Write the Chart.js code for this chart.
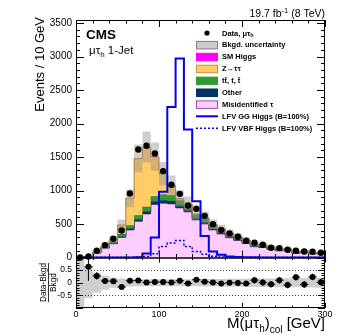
<!DOCTYPE html>
<html>
<head>
<meta charset="utf-8">
<script src="https://cdn.jsdelivr.net/npm/chart.js@4.4.1/dist/chart.umd.min.js"></script>
<style>
  html, body { margin: 0; padding: 0; background: #fff; }
  #wrap { position: relative; width: 349px; height: 336px; }
</style>
</head>
<body>
<div id="wrap"><canvas id="lfv-chart" width="349" height="336"></canvas></div>
<script>
// lower edge of each 10 GeV bin, M(mu tau_h)_col
const binLow = [0, 10, 20, 30, 40, 50, 60, 70, 80, 90, 100, 110, 120, 130, 140,
  150, 160, 170, 180, 190, 200, 210, 220, 230, 240, 250, 260, 270, 280, 290];

const dataObs = [0, 15, 100, 185, 280, 403, 955, 1612, 1667, 1552, 1290, 1085, 950, 776, 727,
  622, 498, 413, 360, 310, 250, 222, 190, 145, 140, 115, 100, 90, 85, 72];

// background stack, bottom to top
const misidTau = [2, 7, 68, 140, 205, 300, 410, 540, 650, 790, 810, 800, 740, 680, 560,
  500, 410, 350, 295, 255, 208, 160, 150, 122, 100, 100, 64, 76, 54, 55];
const otherBkg = [0, 0.5, 2, 5, 8, 15, 22, 30, 38, 45, 45, 45, 40, 35, 25,
  25, 20, 18, 15, 13, 11, 9, 8, 7, 6, 5, 4, 4, 3, 3];
const ttbar = [0, 1, 6, 14, 22, 35, 50, 60, 70, 80, 85, 85, 70, 65, 55,
  60, 55, 52, 45, 41, 36, 30, 28, 24, 19, 19, 13, 16, 11, 11];
const zTauTau = [0, 0.5, 3, 14, 29, 135, 401, 847, 889, 588, 307, 139, 26, 17, 8,
  12, 7, 6, 5, 4, 3, 3, 2, 2, 2, 2, 1, 1, 1, 1];
const smHiggs = [0, 0, 0, 0, 0, 0, 1, 2, 3, 4, 5, 5, 4, 3, 2,
  1, 1, 0, 0, 0, 0, 0, 0, 0, 0, 0, 0, 0, 0, 0];
// relative background uncertainty
const bkgRelUnc = [1.0, 0.6, 0.4, 0.28, 0.2, 0.17, 0.15, 0.14, 0.14, 0.14, 0.14, 0.14, 0.14, 0.14, 0.14,
  0.15, 0.15, 0.15, 0.16, 0.16, 0.16, 0.17, 0.17, 0.17, 0.18, 0.18, 0.18, 0.19, 0.19, 0.2];

// signal, B = 100%
const lfvGG = [0, 0, 0, 0, 0, 0, 0, 5, 60, 300, 980, 2245, 2970, 1910, 840,
  320, 90, 40, 15, 8, 4, 2, 1, 1, 0, 0, 0, 0, 0, 0];
const lfvVBF = [0, 0, 0, 0, 0, 0, 0, 3, 15, 55, 165, 215, 255, 165, 90,
  50, 18, 8, 4, 2, 1, 0, 0, 0, 0, 0, 0, 0, 0, 0];

// (Data-Bkgd)/Bkgd panel
const ratioVals = [null, 0.63, 0.27, 0.07, 0.06, -0.17, 0.08, 0.09, 0.01, 0.03, 0.03, 0.01, 0.08, -0.03, 0.12,
  0.04, 0.01, -0.03, 0.0, -0.01, -0.03, 0.1, 0.01, -0.06, 0.1, -0.09, 0.22, -0.07, 0.23, 0.02];
const ratioErr = [0, 0.55, 0.15, 0.1, 0.09, 0.08, 0.07, 0.07, 0.07, 0.07, 0.07, 0.07, 0.07, 0.07, 0.07,
  0.1, 0.1, 0.1, 0.1, 0.1, 0.1, 0.13, 0.13, 0.13, 0.13, 0.13, 0.13, 0.13, 0.13, 0.13];

// tick labels
const xTickVals = [0, 100, 200, 300];
const yTickVals = [0, 500, 1000, 1500, 2000, 2500, 3000, 3500];
const ratioTickVals = [-0.5, 0, 0.5];

const FONT = "'Liberation Sans', Arial, Helvetica, sans-serif";

const steps = (vals) => {
  const pts = binLow.map((x, i) => ({ x: x, y: vals[i] }));
  pts.push({ x: 300, y: vals[vals.length - 1] });
  return pts;
};
const addArr = (a, b) => a.map((v, i) => v + b[i]);

const cum1 = misidTau;
const cum2 = addArr(cum1, otherBkg);
const cum3 = addArr(cum2, ttbar);
const cum4 = addArr(cum3, zTauTau);
const total = addArr(cum4, smHiggs);
const bandLo = total.map((t, i) => t * (1 - bkgRelUnc[i]));
const bandHi = total.map((t, i) => t * (1 + bkgRelUnc[i]));
const rBandLo = bkgRelUnc.map(u => Math.max(-u, -1));
const rBandHi = bkgRelUnc.map(u => Math.min(u, 1));

const histo = (label, vals, fillTarget, bg, border, order) => ({
  label: label,
  data: steps(vals),
  stepped: 'before',
  yAxisID: 'y',
  fill: fillTarget,
  backgroundColor: bg,
  borderColor: border,
  borderWidth: 1,
  pointRadius: 0,
  order: order
});

const datasets = [
  histo('Misidentified tau', cum1, 'origin', '#ffccff', '#a050a0', 20),       // 0
  histo('Other', cum2, 0, '#003366', '#003366', 19),                          // 1
  histo('ttbar', cum3, 1, '#339933', '#1f6f1f', 18),                          // 2
  histo('Z->tautau', cum4, 2, '#ffcc66', '#b87a30', 17),                      // 3
  histo('SM Higgs', total, 3, '#ff00ff', 'rgba(0,0,0,0)', 16),                // 4
  histo('band lo', bandLo, false, 'rgba(0,0,0,0)', 'rgba(0,0,0,0)', 15),      // 5
  histo('Bkgd. uncertainty', bandHi, 5, 'rgba(140,140,140,0.42)', 'rgba(0,0,0,0)', 14), // 6
  { label: 'LFV VBF', data: steps(lfvVBF), stepped: 'before', yAxisID: 'y', fill: false,
    borderColor: '#0000ee', borderWidth: 1.5, borderDash: [2, 2], pointRadius: 0, order: 3 }, // 7
  { label: 'LFV GG', data: steps(lfvGG), stepped: 'before', yAxisID: 'y', fill: false,
    borderColor: '#0000ee', borderWidth: 2, pointRadius: 0, order: 2 },          // 8
  { label: 'Data', data: binLow.map((x, i) => ({ x: x + 5, y: dataObs[i] })), yAxisID: 'y',
    showLine: false, pointRadius: 3.2, pointBackgroundColor: '#000', pointBorderWidth: 0,
    clip: 6, order: 1 },                                                         // 9
  { label: 'r lo', data: steps(rBandLo), stepped: 'before', yAxisID: 'yr', fill: false,
    borderWidth: 0, borderColor: 'rgba(0,0,0,0)', pointRadius: 0, order: 12 },    // 10
  { label: 'r hi', data: steps(rBandHi), stepped: 'before', yAxisID: 'yr', fill: 10,
    backgroundColor: 'rgba(140,140,140,0.42)', borderWidth: 0, borderColor: 'rgba(0,0,0,0)',
    pointRadius: 0, order: 11 },                                                 // 11
  { label: 'ratio', data: binLow.map((x, i) => ({ x: x + 5, y: ratioVals[i] })).filter(p => p.y !== null),
    yAxisID: 'yr', showLine: false, pointRadius: 3, pointBackgroundColor: '#000',
    pointBorderWidth: 0, clip: 6, order: 1 }                                     // 12
];

const legendRows = [
  { parts: [['Data, \u03bc\u03c4', 7.5], ['h', 5.5, 2]], kind: 'point' },
  { parts: [['Bkgd. uncertainty', 7.5]], kind: 'box', fill: '#cccccc', stroke: '#9a709a' },
  { parts: [['SM Higgs', 7.5]], kind: 'box', fill: '#ff00ff', stroke: '#ff00ff' },
  { parts: [['Z\u2192\u03c4\u03c4', 7.5]], kind: 'box', fill: '#ffcc66', stroke: '#d08a3a' },
  { parts: [['tt\u0304, t, t\u0304', 7.5]], kind: 'box', fill: '#339933', stroke: '#339933' },
  { parts: [['Other', 7.5]], kind: 'box', fill: '#003366', stroke: '#003366' },
  { parts: [['Misidentified \u03c4', 7.5]], kind: 'box', fill: '#ffccff', stroke: '#9a509a' },
  { parts: [['LFV GG Higgs (B=100%)', 7.5]], kind: 'line', dash: [] },
  { parts: [['LFV VBF Higgs (B=100%)', 7.5]], kind: 'line', dash: [2, 2] }
];

// parts: [text, size, dy]
function richText(ctx, parts, x, y, align, bold) {
  let w = 0;
  parts.forEach(p => {
    ctx.font = (bold ? 'bold ' : '') + p[1] + 'px ' + FONT;
    w += ctx.measureText(p[0]).width;
  });
  let cx = align === 'right' ? x - w : x;
  parts.forEach(p => {
    ctx.font = (bold ? 'bold ' : '') + p[1] + 'px ' + FONT;
    ctx.fillText(p[0], cx, y + (p[2] || 0));
    cx += ctx.measureText(p[0]).width;
  });
}

const cmsDecor = {
  id: 'cmsDecor',
  afterDatasetsDraw(chart) {
    const ctx = chart.ctx;
    const x = chart.scales.x, y = chart.scales.y, yr = chart.scales.yr;
    const L = chart.chartArea.left, R = chart.chartArea.right;
    ctx.save();

    // dotted reference lines in ratio panel
    ctx.strokeStyle = '#444';
    ctx.lineWidth = 1;
    ctx.setLineDash([1, 2]);
    [0.5, -0.5].forEach(v => {
      const py = Math.round(yr.getPixelForValue(v)) + 0.5;
      ctx.beginPath(); ctx.moveTo(L, py); ctx.lineTo(R, py); ctx.stroke();
    });
    ctx.setLineDash([]);

    // ratio error bars
    ctx.strokeStyle = '#000';
    ctx.beginPath();
    ratioVals.forEach((v, i) => {
      if (v === null) return;
      const cx = x.getPixelForValue(binLow[i] + 5);
      const top = Math.max(yr.getPixelForValue(v + ratioErr[i]), yr.top);
      const bot = Math.min(yr.getPixelForValue(v - ratioErr[i]), yr.bottom);
      const cy = yr.getPixelForValue(v);
      ctx.moveTo(cx, top); ctx.lineTo(cx, bot);
      ctx.moveTo(x.getPixelForValue(binLow[i]), cy); ctx.lineTo(x.getPixelForValue(binLow[i] + 10), cy);
    });
    ctx.stroke();

    // frames
    ctx.lineWidth = 1;
    ctx.strokeRect(L + 0.5, y.top + 0.5, R - L - 1, y.bottom - y.top);
    ctx.strokeRect(L + 0.5, yr.top + 0.5, R - L - 1, yr.bottom - yr.top - 1);

    // inward ticks
    ctx.beginPath();
    for (let v = 0; v <= 300; v += 20) {
      const px = Math.round(x.getPixelForValue(v)) + 0.5;
      const big = v % 100 === 0;
      const lm = big ? 7 : 3.5, lr = big ? 5 : 2.5;
      ctx.moveTo(px, y.top); ctx.lineTo(px, y.top + lm);
      ctx.moveTo(px, y.bottom); ctx.lineTo(px, y.bottom - lm);
      ctx.moveTo(px, yr.top); ctx.lineTo(px, yr.top + lr);
      ctx.moveTo(px, yr.bottom); ctx.lineTo(px, yr.bottom - lr);
    }
    for (let v = 0; v <= 3500; v += 100) {
      const py = Math.round(y.getPixelForValue(v)) + 0.5;
      const len = v % 500 === 0 ? 8 : 4;
      ctx.moveTo(L, py); ctx.lineTo(L + len, py);
      ctx.moveTo(R, py); ctx.lineTo(R - len, py);
    }
    for (let k = -10; k <= 10; k++) {
      const v = k / 10;
      const py = Math.round(yr.getPixelForValue(v)) + 0.5;
      const len = k % 5 === 0 ? 7 : 3.5;
      ctx.moveTo(L, py); ctx.lineTo(L + len, py);
      ctx.moveTo(R, py); ctx.lineTo(R - len, py);
    }
    ctx.stroke();
    ctx.restore();
  },
  afterDraw(chart) {
    const ctx = chart.ctx;
    ctx.save();
    ctx.fillStyle = '#000';
    ctx.textBaseline = 'alphabetic';

    // header texts
    richText(ctx, [['19.7 fb', 10.5], ['-1', 7.5, -4], [' (8 TeV)', 10.5]], 325, 17, 'right');
    ctx.font = 'bold 13.5px ' + FONT;
    ctx.fillText('CMS', 86, 38.5);
    richText(ctx, [['\u03bc\u03c4', 11.5], ['h', 8, 3], [' 1-Jet', 11.5]], 89, 54, 'left');

    // legend
    legendRows.forEach((row, i) => {
      const cy = 33 + i * 11.9;
      if (row.kind === 'point') {
        ctx.beginPath(); ctx.arc(207, cy, 2.6, 0, Math.PI * 2); ctx.fill();
      } else if (row.kind === 'box') {
        ctx.fillStyle = row.fill;
        ctx.fillRect(196.5, cy - 3.5, 21, 7.5);
        ctx.strokeStyle = row.stroke;
        ctx.lineWidth = 1;
        ctx.strokeRect(196.5, cy - 3.5, 21, 7.5);
        ctx.fillStyle = '#000';
      } else {
        ctx.strokeStyle = '#0000ee';
        ctx.lineWidth = row.dash.length ? 1.5 : 2;
        ctx.setLineDash(row.dash);
        ctx.beginPath(); ctx.moveTo(196, cy); ctx.lineTo(218, cy); ctx.stroke();
        ctx.setLineDash([]);
      }
      ctx.textBaseline = 'middle';
      richText(ctx, row.parts, 222, cy + 0.5, 'left', true);
      ctx.textBaseline = 'alphabetic';
    });
    ctx.strokeStyle = '#000';

    // axis titles
    ctx.save();
    ctx.translate(40, 17);
    ctx.rotate(-Math.PI / 2);
    ctx.textAlign = 'right';
    ctx.textBaseline = 'middle';
    ctx.font = '13px ' + FONT;
    ctx.fillText('Events / 10 GeV', 0, 0);
    ctx.restore();

    ctx.save();
    ctx.translate(48.5, 282.5);
    ctx.rotate(-Math.PI / 2);
    ctx.textAlign = 'center';
    ctx.font = '8.3px ' + FONT;
    ctx.textBaseline = 'bottom';
    ctx.fillText('Data-Bkgd', 0, -1);
    ctx.textBaseline = 'top';
    ctx.fillText('Bkgd', 0, 1.5);
    ctx.lineWidth = 0.8;
    ctx.beginPath(); ctx.moveTo(-19.5, 0); ctx.lineTo(19.5, 0); ctx.stroke();
    ctx.restore();

    richText(ctx, [['M(\u03bc\u03c4', 15], ['h', 10, 4], [')', 15], ['col', 10, 5], [' [GeV]', 15]], 325, 328, 'right');
    ctx.restore();
  }
};

const setTicks = (vals) => (s) => { s.ticks = vals.map(v => ({ value: v })); };

new Chart(document.getElementById('lfv-chart').getContext('2d'), {
  type: 'line',
  data: { datasets: datasets },
  options: {
    responsive: false,
    animation: false,
    devicePixelRatio: 1,
    events: [],
    layout: { padding: { left: 0, right: 24, top: 20, bottom: 0 } },
    plugins: { legend: { display: false }, tooltip: { enabled: false } },
    scales: {
      x: {
        type: 'linear', min: 0, max: 300,
        grid: { display: false, drawTicks: false },
        border: { display: false },
        afterBuildTicks: setTicks(xTickVals),
        ticks: { padding: 1, color: '#000', font: { family: FONT, size: 9 }, callback: (v) => String(v) },
        afterFit: (s) => { s.height = 28; }
      },
      y: {
        type: 'linear', min: 0, max: 3545, position: 'left',
        stack: 'panels', stackWeight: 237.5, weight: 2,
        grid: { display: false, drawTicks: false },
        border: { display: false },
        afterBuildTicks: setTicks(yTickVals),
        ticks: { padding: 4, color: '#000', font: { family: FONT, size: 10 }, callback: (v) => String(v) },
        afterFit: (s) => { s.width = 76; }
      },
      yr: {
        type: 'linear', min: -1, max: 1, position: 'left',
        stack: 'panels', stackWeight: 50.5, weight: 1,
        grid: { display: false, drawTicks: false },
        border: { display: false },
        afterBuildTicks: setTicks(ratioTickVals),
        ticks: { padding: 4, color: '#000', font: { family: FONT, size: 8.5 }, callback: (v) => String(v) },
        afterFit: (s) => { s.width = 76; }
      }
    }
  },
  plugins: [cmsDecor]
});
</script>
</body>
</html>
